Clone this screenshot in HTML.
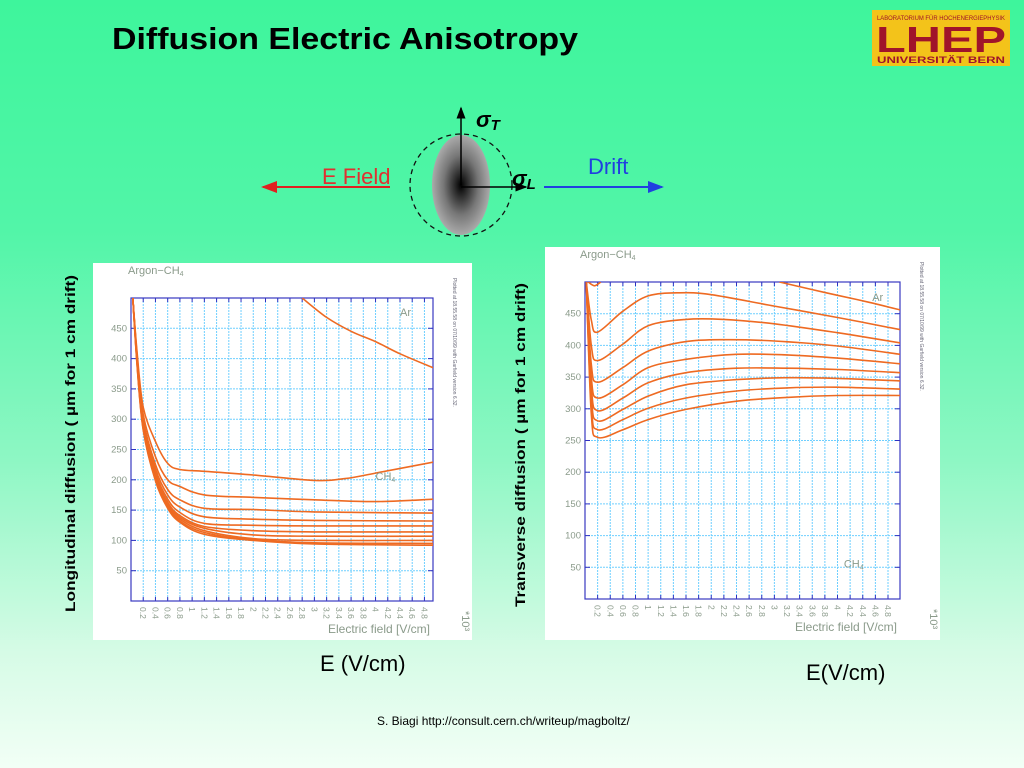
<!DOCTYPE html>
<html><head><meta charset="utf-8">
<style>
html,body{margin:0;padding:0}
body{width:1024px;height:768px;overflow:hidden;background:linear-gradient(180deg,#3ef59c 0%,#52f5a8 30%,#8ef7c4 60%,#d6fbe6 85%,#f2fff6 100%);font-family:"Liberation Sans",sans-serif;position:relative}
svg{position:absolute;left:0;top:0}
</style></head>
<body>
<svg id="s" width="1024" height="768" viewBox="0 0 1024 768">
<defs>
<radialGradient id="blob" cx="50%" cy="50%" r="50%">
<stop offset="0" stop-color="#000"/><stop offset="0.6" stop-color="#777"/><stop offset="1" stop-color="#aaa"/>
</radialGradient>
<marker id="ab" markerWidth="8" markerHeight="8" refX="7" refY="4" orient="auto"><path d="M0,1 L8,4 L0,7 z" fill="#000"/></marker>
<marker id="ar" markerWidth="8" markerHeight="8" refX="7" refY="4" orient="auto"><path d="M0,1 L8,4 L0,7 z" fill="#e02020"/></marker>
<marker id="abl" markerWidth="8" markerHeight="8" refX="7" refY="4" orient="auto"><path d="M0,1 L8,4 L0,7 z" fill="#2040e0"/></marker>
</defs>
<text x="112" y="49" font-size="31" font-weight="bold" fill="#000" textLength="466" lengthAdjust="spacingAndGlyphs">Diffusion Electric Anisotropy</text>
<g>
<rect x="872" y="10" width="138" height="56" fill="#f3c31a"/>
<text x="941" y="20" font-size="6.5" fill="#a0142a" text-anchor="middle" textLength="128" lengthAdjust="spacingAndGlyphs">LABORATORIUM FÜR HOCHENERGIEPHYSIK</text>
<text x="941" y="52" font-size="36" font-weight="bold" fill="#a0142a" text-anchor="middle" textLength="130" lengthAdjust="spacingAndGlyphs">LHEP</text>
<text x="941" y="63" font-size="9.5" font-weight="bold" fill="#a0142a" text-anchor="middle" textLength="128" lengthAdjust="spacingAndGlyphs">UNIVERSITÄT BERN</text>
</g>
<g>
<ellipse cx="461" cy="185" rx="29" ry="50" fill="url(#blob)"/>
<circle cx="461" cy="185" r="51" fill="none" stroke="#111" stroke-width="1.3" stroke-dasharray="5,4"/>
<line x1="461" y1="185" x2="461" y2="108" stroke="#000" stroke-width="1.5" marker-end="url(#ab)"/>
<line x1="461" y1="187" x2="526" y2="187" stroke="#000" stroke-width="1.5" marker-end="url(#ab)"/>
<text x="476" y="127" font-size="22" font-style="italic" font-weight="bold">σ<tspan font-size="15" dy="3">T</tspan></text>
<text x="512" y="186" font-size="22" font-style="italic" font-weight="bold">σ<tspan font-size="15" dy="3">L</tspan></text>
<text x="322" y="184" font-size="22" fill="#e03030">E Field</text>
<line x1="390" y1="187" x2="263" y2="187" stroke="#e02020" stroke-width="2" marker-end="url(#ar)"/>
<text x="588" y="174" font-size="22" fill="#2040e0">Drift</text>
<line x1="544" y1="187" x2="662" y2="187" stroke="#2040e0" stroke-width="2" marker-end="url(#abl)"/>
</g>
<text transform="translate(75,612) rotate(-90)" font-size="14" font-weight="bold" textLength="337" lengthAdjust="spacingAndGlyphs">Longitudinal diffusion (  µm for 1 cm drift)</text>
<text transform="translate(525,607) rotate(-90)" font-size="14" font-weight="bold" textLength="324" lengthAdjust="spacingAndGlyphs">Transverse diffusion (  µm for 1 cm drift)</text>
<text x="320" y="671" font-size="22">E (V/cm)</text>
<text x="806" y="680" font-size="22">E(V/cm)</text>
<text x="377" y="725" font-size="12">S. Biagi http://consult.cern.ch/writeup/magboltz/</text>
<g id="charts"></g>
</svg>
<script>
const yTicks = [50,100,150,200,250,300,350,400,450];
const xTickLabels = ["0.2","0.4","0.6","0.8","1","1.2","1.4","1.6","1.8","2","2.2","2.4","2.6","2.8","3","3.2","3.4","3.6","3.8","4","4.2","4.4","4.6","4.8"];
const xTicks = [0.2,0.4,0.6,0.8,1,1.2,1.4,1.6,1.8,2,2.2,2.4,2.6,2.8,3,3.2,3.4,3.6,3.8,4,4.2,4.4,4.6,4.8];
// Longitudinal (left) series: [E (kV/cm), diffusion]
const longAr = [[2.8,500],[3.2,468],[3.6,445],[4,428],[4.4,408],[4.94,385]];
const longCH4 = [[0.03,500],[0.1,410],[0.2,320],[0.4,263],[0.6,227],[0.8,217],[1.2,214],[2,208],[3,199],[3.5,202],[4,211],[4.94,229]];
const longMix1 = [[0.03,500],[0.1,405],[0.2,308],[0.4,238],[0.6,200],[0.8,189],[1.2,175],[2,171],[3,167],[4,164],[4.94,168]];
const longMix2 = [[0.03,500],[0.1,402],[0.2,300],[0.4,225],[0.6,184],[0.8,167],[1.2,153],[2,151],[3,147],[4.94,145]];
const longMix3 = [[0.03,500],[0.1,400],[0.2,296],[0.4,218],[0.6,175],[0.8,155],[1.2,139],[2,135],[3,133],[4.94,132]];
const longMix4 = [[0.03,500],[0.1,398],[0.2,293],[0.4,212],[0.6,168],[0.8,146],[1.2,128],[2,125],[3,124],[4.94,124]];
const longMix5 = [[0.03,500],[0.1,396],[0.2,290],[0.4,208],[0.6,163],[0.8,141],[1.2,123],[2,116],[3,114],[4.94,114]];
const longMix6 = [[0.03,500],[0.1,394],[0.2,288],[0.4,205],[0.6,160],[0.8,138],[1.2,120],[2,109],[3,107],[4.94,107]];
const longMix7 = [[0.03,500],[0.1,392],[0.2,286],[0.4,202],[0.6,157],[0.8,135],[1.2,116],[2,103],[3,100],[4.94,100]];
const longMix8 = [[0.03,500],[0.1,390],[0.2,284],[0.4,200],[0.6,155],[0.8,132],[1.2,113],[2,101],[3,96],[4.94,95]];
const longMix9 = [[0.03,500],[0.1,388],[0.2,282],[0.4,198],[0.6,153],[0.8,130],[1.2,110],[2,100],[3,94],[4.94,92]];
// Transverse (right) series
const transAr = [[3.08,500],[3.6,488],[4,479],[4.5,468],[4.99,456]];
const transArHook = [[0.05,500],[0.15,494],[0.25,500]];
const trans1 = [[0.02,500],[0.1,440],[0.2,421],[0.6,454],[1.0,478],[1.5,483],[2,480],[3,462],[4,444],[4.99,425]];
const trans2 = [[0.02,500],[0.1,400],[0.2,376],[0.6,402],[1.0,431],[1.6,441],[2.2,441],[3,434],[4,420],[4.99,404]];
const trans3 = [[0.02,500],[0.1,370],[0.2,342],[0.6,365],[1.0,391],[1.6,406],[2.2,409],[3,407],[4,399],[4.99,386]];
const trans4 = [[0.02,500],[0.1,350],[0.2,317],[0.6,338],[1.0,365],[1.6,378],[2.4,386],[3.2,385],[4,380],[4.99,371]];
const trans5 = [[0.02,500],[0.1,335],[0.2,297],[0.6,317],[1.0,341],[1.6,357],[2.4,364],[3.2,364],[4,362],[4.99,357]];
const trans6 = [[0.02,500],[0.1,320],[0.2,281],[0.6,299],[1.0,320],[1.6,338],[2.4,346],[3.2,349],[4,348],[4.99,344]];
const trans7 = [[0.02,500],[0.1,305],[0.2,267],[0.6,283],[1.0,301],[1.6,317],[2.4,328],[3.2,333],[4,334],[4.99,331]];
const trans8 = [[0.02,500],[0.1,292],[0.2,255],[0.6,267],[1.0,283],[1.6,299],[2.4,312],[3.2,318],[4,321],[4.99,321]];

const NS="http://www.w3.org/2000/svg";
const root=document.getElementById('charts');
function mk(tag,attrs,parent){const e=document.createElementNS(NS,tag);for(const k in attrs)e.setAttribute(k,attrs[k]);(parent||root).appendChild(e);return e;}

function smoothPath(pts){
  let d="M"+pts[0][0].toFixed(1)+","+pts[0][1].toFixed(1);
  for(let i=0;i<pts.length-1;i++){
    const p0=pts[Math.max(0,i-1)],p1=pts[i],p2=pts[i+1],p3=pts[Math.min(pts.length-1,i+2)];
    const c1x=p1[0]+(p2[0]-p0[0])/6,c1y=p1[1]+(p2[1]-p0[1])/6;
    const c2x=p2[0]-(p3[0]-p1[0])/6,c2y=p2[1]-(p3[1]-p1[1])/6;
    d+=" C"+c1x.toFixed(1)+","+c1y.toFixed(1)+" "+c2x.toFixed(1)+","+c2y.toFixed(1)+" "+p2[0].toFixed(1)+","+p2[1].toFixed(1);
  }
  return d;
}

function chart(cfg){
  const g=mk('g',{});
  
  
  const bg=mk('rect',{x:cfg.bx,y:cfg.by,width:cfg.bw,height:cfg.bh,fill:'#ffffff'},g);
  
  
  const X=v=>cfg.L+(v-0)/(cfg.xmax)*(cfg.R-cfg.L);
  const Y=v=>cfg.B-(v/500)*(cfg.B-cfg.T);
  xTicks.forEach((t,i)=>{
    const l=mk('line',{x1:X(t),x2:X(t),y1:cfg.T,y2:cfg.B,stroke:'#6fcfff','stroke-width':1,'stroke-dasharray':'2,1'},g);
    
    
    mk('line',{x1:X(t),x2:X(t),y1:cfg.B,y2:cfg.B-4,stroke:'#3030c0'},g);
    mk('line',{x1:X(t),x2:X(t),y1:cfg.T,y2:cfg.T+4,stroke:'#3030c0'},g);
    const tx=mk('text',{transform:`translate(${X(t)-3},${cfg.B+6}) rotate(90)`,'font-size':8.5,fill:'#8a9a8a'},g);
    tx.textContent=xTickLabels[i];
    
    
  });
  yTicks.forEach(t=>{
    const l=mk('line',{x1:cfg.L,x2:cfg.R,y1:Y(t),y2:Y(t),stroke:'#6fcfff','stroke-width':1,'stroke-dasharray':'2,1'},g);
    
    
    mk('line',{x1:cfg.L,x2:cfg.L+5,y1:Y(t),y2:Y(t),stroke:'#3030c0'},g);
    mk('line',{x1:cfg.R,x2:cfg.R-5,y1:Y(t),y2:Y(t),stroke:'#3030c0'},g);
    const tx=mk('text',{x:cfg.L-4,y:Y(t)+3,'font-size':9.5,fill:'#8a9a8a','text-anchor':'end'},g);
    tx.textContent=String(t);
    
    
  });
  const fr=mk('rect',{x:cfg.L,y:cfg.T,width:cfg.R-cfg.L,height:cfg.B-cfg.T,fill:'none',stroke:'#3838c0','stroke-width':1.2},g);
  
  
  const clip=mk('clipPath',{id:cfg.name+'-clip'},g);
  mk('rect',{x:cfg.L,y:cfg.T,width:cfg.R-cfg.L,height:cfg.B-cfg.T},clip);
  const sg=mk('g',{'clip-path':`url(#${cfg.name}-clip)`},g);
  cfg.series.forEach(s=>{
    const p=mk('path',{d:smoothPath(s.map(q=>[X(q[0]),Y(q[1])])),fill:'none',stroke:'#ee6a22','stroke-width':1.6},sg);
    
    
  });
  const t1=mk('text',{x:cfg.bx+35,y:cfg.by+11,'font-size':11,fill:'#8a9a8a'},g);
  t1.innerHTML='Argon−CH<tspan font-size="7" dy="2">4</tspan>';
  
  
  const t2=mk('text',{x:cfg.R-3,y:cfg.B+32,'font-size':12,fill:'#8a9a8a','text-anchor':'end'},g);
  t2.textContent='Electric field [V/cm]';
  
  
  const t3=mk('text',{transform:`translate(${cfg.bx+cfg.bw-10},${cfg.B+10}) rotate(90)`,'font-size':11,fill:'#8a9a8a'},g);
  t3.textContent='*10³';
  
  
  const t4=mk('text',{transform:`translate(${cfg.R+20},${cfg.T-20}) rotate(90)`,'font-size':5,fill:'#667'},g);
  t4.textContent='Plotted at 18.55.58 on 07/10/99 with Garfield version 6.32.';
  
  
  const a=mk('text',{x:X(cfg.arPos[0]),y:Y(cfg.arPos[1]),'font-size':11,fill:'#8a9a8a'},g);
  a.textContent='Ar';
  
  
  const c=mk('text',{x:X(cfg.chPos[0]),y:Y(cfg.chPos[1]),'font-size':11,fill:'#8a9a8a'},g);
  c.innerHTML='CH<tspan font-size="7" dy="2">4</tspan>';
  
  
}
chart({name:'longitudinal-chart',bx:93,by:263,bw:379,bh:377,L:131,R:433,T:298,B:601,xmax:4.94,
  series:[longAr,longCH4,longMix1,longMix2,longMix3,longMix4,longMix5,longMix6,longMix7,longMix8,longMix9],
  arPos:[4.4,470],chPos:[4.0,200]});
chart({name:'transverse-chart',bx:545,by:247,bw:395,bh:393,L:585,R:900,T:282,B:599,xmax:4.99,
  series:[transAr,transArHook,trans1,trans2,trans3,trans4,trans5,trans6,trans7,trans8],
  arPos:[4.55,470],chPos:[4.1,50]});
</script>
</body></html>
